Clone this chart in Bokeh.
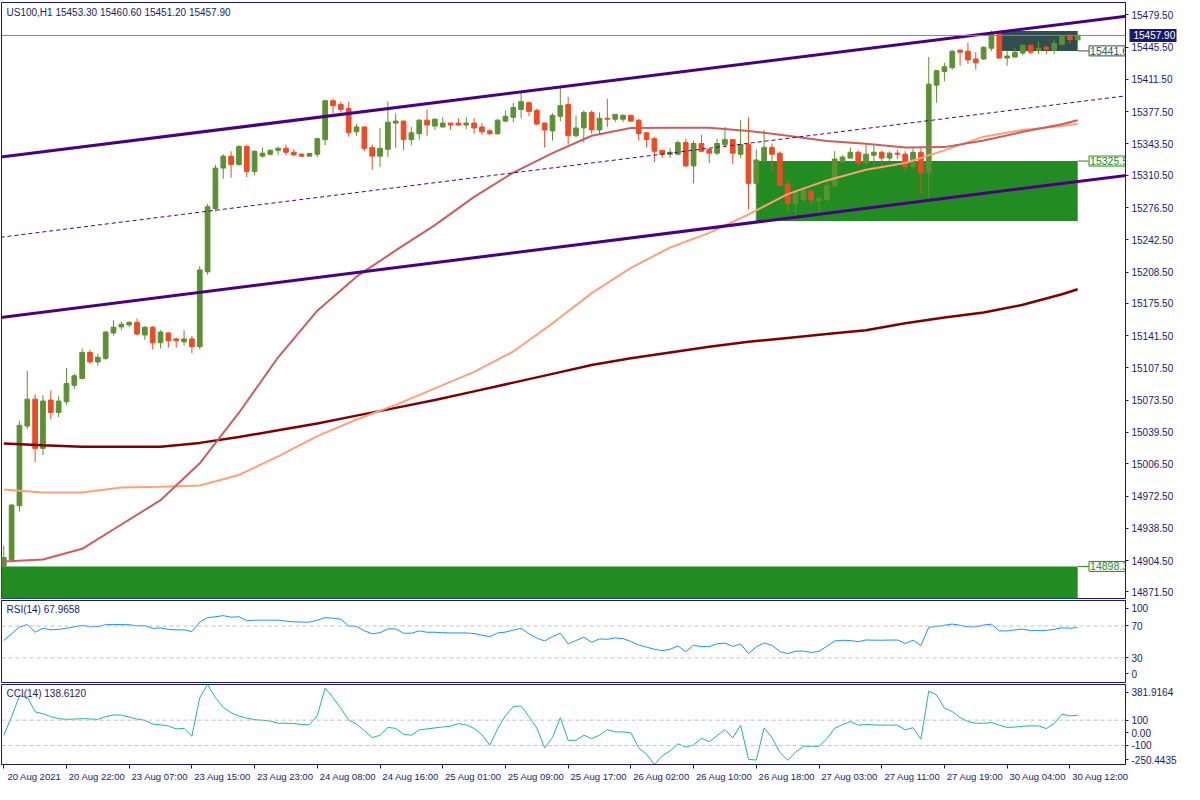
from bokeh.plotting import figure
from bokeh.layouts import column
from bokeh.models import (ColumnDataSource, FixedTicker, PrintfTickFormatter, Range1d, Label, Span,
                          LinearAxis)
from bokeh.embed import file_html
from bokeh.resources import INLINE
from bokeh.core.properties import value

# ---------------- data ----------------
symbol = "US100,H1"
x_label_bars = [0, 8, 16, 24, 32, 40, 48, 56, 64, 72, 80, 88, 96, 104, 112, 120, 128, 136]
x_label_text = ["20 Aug 2021", "20 Aug 22:00", "23 Aug 07:00", "23 Aug 15:00", "23 Aug 23:00",
                "24 Aug 08:00", "24 Aug 16:00", "25 Aug 01:00", "25 Aug 09:00", "25 Aug 17:00",
                "26 Aug 02:00", "26 Aug 10:00", "26 Aug 18:00", "27 Aug 03:00", "27 Aug 11:00",
                "27 Aug 19:00", "30 Aug 04:00", "30 Aug 12:00"]
price_ticks = [15479.5, 15445.5, 15411.5, 15377.5, 15343.5, 15310.5, 15276.5, 15242.5, 15208.5,
               15175.5, 15141.5, 15107.5, 15073.5, 15039.5, 15006.5, 14972.5, 14938.5, 14904.5, 14871.5]

open_ = [14898.4, 14905.6, 14962.3, 15046.2, 15074.6, 15022.7, 15073.6, 15060.6, 15071.9, 15089.3,
         15096.4, 15123.8, 15113.8, 15117.6, 15144.3, 15150.7, 15152.8, 15155.5, 15142.2, 15150.4,
         15134.0, 15144.3, 15138.1, 15135.0, 15138.1, 15129.9, 15208.8, 15275.4, 15318.1, 15330.7,
         15321.8, 15340.9, 15314.6, 15330.7, 15332.7, 15336.8, 15338.9, 15334.8, 15332.7, 15330.7,
         15332.7, 15348.1, 15389.1, 15385.0, 15380.9, 15356.3, 15361.4, 15339.9, 15330.7, 15337.9,
         15365.5, 15367.6, 15348.1, 15354.3, 15368.6, 15362.4, 15361.4, 15365.5, 15365.5, 15363.5,
         15365.5, 15361.4, 15357.3, 15354.3, 15367.6, 15371.7, 15379.9, 15387.0, 15378.8, 15365.5,
         15357.3, 15372.7, 15385.0, 15352.2, 15360.4, 15376.8, 15358.3, 15370.6, 15369.6, 15369.6,
         15373.7, 15368.6, 15355.3, 15349.1, 15336.8, 15332.7, 15332.7, 15345.0, 15320.4, 15344.0,
         15337.9, 15333.8, 15343.0, 15348.1, 15332.7, 15343.0, 15302.0, 15325.6, 15339.9, 15333.8,
         15301.0, 15280.5, 15284.6, 15293.8, 15283.6, 15284.6, 15298.9, 15324.5, 15328.6, 15334.8,
         15323.5, 15331.7, 15334.8, 15328.6, 15333.8, 15332.7, 15319.4, 15334.8, 15313.3, 15405.5,
         15419.8, 15423.9, 15442.3, 15441.3, 15433.1, 15433.1, 15444.4, 15459.7, 15434.1, 15435.2,
         15439.3, 15447.5, 15442.3, 15445.4, 15442.3, 15448.5, 15456.7, 15453.3]
high = [14920.3, 14964.0, 15051.8, 15104.3, 15079.7, 15078.7, 15083.8, 15077.7, 15107.4, 15101.5,
        15127.9, 15126.9, 15122.8, 15146.3, 15157.6, 15156.6, 15156.6, 15159.6, 15151.4, 15151.4,
        15147.3, 15145.3, 15139.1, 15147.3, 15141.2, 15214.9, 15280.5, 15321.5, 15332.7, 15335.8,
        15342.0, 15342.7, 15336.8, 15339.9, 15337.9, 15340.9, 15343.0, 15337.9, 15333.8, 15333.8,
        15350.2, 15390.0, 15391.1, 15388.1, 15388.1, 15364.5, 15362.4, 15343.0, 15360.4, 15388.1,
        15375.8, 15368.2, 15361.4, 15369.6, 15379.9, 15370.6, 15371.7, 15366.0, 15370.6, 15371.7,
        15370.6, 15365.5, 15359.4, 15369.6, 15378.8, 15387.0, 15398.3, 15388.1, 15380.9, 15366.0,
        15375.8, 15404.4, 15393.2, 15373.7, 15378.8, 15378.8, 15376.8, 15391.1, 15375.0, 15375.0,
        15374.2, 15369.6, 15355.8, 15351.2, 15337.3, 15338.9, 15347.1, 15349.1, 15347.1, 15353.2,
        15338.4, 15349.1, 15361.4, 15348.6, 15368.6, 15371.7, 15337.9, 15358.3, 15344.0, 15335.8,
        15307.1, 15294.8, 15298.9, 15294.3, 15287.7, 15305.1, 15335.8, 15331.7, 15339.9, 15336.8,
        15343.0, 15342.0, 15336.8, 15335.8, 15336.8, 15335.8, 15339.9, 15338.9, 15435.2, 15421.0,
        15429.0, 15442.3, 15443.4, 15450.5, 15440.3, 15446.4, 15462.8, 15462.8, 15442.3, 15444.4,
        15448.5, 15448.5, 15451.6, 15447.5, 15453.6, 15457.7, 15458.7, 15460.6]
low = [14896.4, 14904.6, 14956.1, 15043.2, 15008.3, 15015.5, 15053.4, 15055.5, 15068.8, 15085.2,
       15095.4, 15111.8, 15109.7, 15115.9, 15141.5, 15147.6, 15150.7, 15142.2, 15137.1, 15126.9,
       15127.9, 15128.9, 15128.9, 15131.0, 15122.8, 15126.9, 15205.7, 15272.3, 15306.8, 15307.9,
       15320.8, 15308.5, 15310.5, 15329.0, 15331.7, 15331.7, 15331.7, 15331.2, 15329.7, 15330.2,
       15329.7, 15342.0, 15375.8, 15376.8, 15351.2, 15352.2, 15335.8, 15316.4, 15319.4, 15329.7,
       15338.9, 15336.8, 15342.0, 15348.1, 15352.2, 15358.3, 15360.8, 15358.3, 15362.4, 15359.4,
       15354.3, 15353.2, 15353.2, 15353.2, 15366.5, 15366.5, 15370.6, 15372.7, 15363.5, 15339.9,
       15347.1, 15367.6, 15343.0, 15350.2, 15345.0, 15354.3, 15354.3, 15361.4, 15366.5, 15366.5,
       15367.0, 15347.1, 15339.9, 15324.5, 15328.6, 15328.6, 15331.7, 15319.4, 15302.0, 15335.3,
       15323.5, 15331.7, 15339.9, 15322.5, 15328.6, 15274.4, 15263.1, 15324.5, 15314.3, 15298.9,
       15272.3, 15269.2, 15284.0, 15279.5, 15271.3, 15284.0, 15298.4, 15323.5, 15328.1, 15320.4,
       15320.4, 15321.5, 15317.4, 15323.5, 15327.6, 15314.3, 15317.4, 15290.7, 15286.6, 15387.0,
       15409.6, 15421.9, 15425.9, 15428.0, 15421.9, 15432.1, 15441.3, 15433.7, 15425.9, 15434.1,
       15437.2, 15438.2, 15438.2, 15438.2, 15438.2, 15447.5, 15449.5, 15451.2]
close = [14907.7, 14963.0, 15047.0, 15074.6, 15022.7, 15072.6, 15060.6, 15072.6, 15091.0, 15099.2,
         15123.8, 15113.8, 15118.7, 15145.3, 15150.4, 15153.5, 15155.5, 15143.2, 15150.4, 15134.0,
         15145.3, 15136.1, 15136.1, 15138.1, 15129.9, 15210.8, 15277.4, 15318.1, 15330.7, 15321.8,
         15340.9, 15314.6, 15335.8, 15333.8, 15336.8, 15338.9, 15334.8, 15332.0, 15330.7, 15333.6,
         15349.1, 15389.1, 15384.0, 15379.9, 15355.3, 15361.4, 15338.9, 15330.7, 15338.9, 15366.5,
         15367.6, 15348.1, 15355.3, 15368.6, 15363.5, 15369.6, 15365.5, 15363.5, 15363.5, 15365.5,
         15360.4, 15356.3, 15354.3, 15368.6, 15372.7, 15381.9, 15388.1, 15377.8, 15364.5, 15358.3,
         15373.7, 15384.0, 15352.2, 15360.4, 15376.8, 15358.3, 15370.6, 15369.6, 15374.7, 15373.7,
         15367.6, 15354.3, 15348.1, 15335.8, 15332.7, 15334.8, 15345.0, 15320.4, 15344.0, 15335.8,
         15333.8, 15344.0, 15348.1, 15333.8, 15343.0, 15302.0, 15326.6, 15339.9, 15332.7, 15299.9,
         15280.5, 15293.8, 15294.8, 15284.6, 15285.6, 15300.0, 15327.6, 15329.7, 15334.8, 15323.5,
         15332.7, 15334.8, 15328.6, 15333.8, 15332.7, 15319.4, 15334.8, 15313.3, 15406.5, 15420.8,
         15424.9, 15441.3, 15440.3, 15432.1, 15429.0, 15445.4, 15459.7, 15434.1, 15436.2, 15440.3,
         15447.5, 15440.3, 15444.4, 15443.4, 15449.5, 15456.7, 15453.6, 15457.9]

# moving averages, read at every 5th bar
ma_bars = [0, 5, 10, 15, 20, 25, 30, 35, 40, 45, 50, 55, 60, 65, 70, 75, 80, 85, 90, 95,
           100, 105, 110, 115, 120, 125, 130, 135, 137]
ma_fast = [14903.5, 14905.6, 14916.9, 14942.5, 14968.1, 15007.0, 15060.3, 15118.7, 15167.8, 15203.7,
           15231.3, 15258.0, 15287.7, 15313.3, 15333.8, 15352.2, 15360.4, 15360.7, 15360.7, 15357.3,
           15352.2, 15346.6, 15343.7, 15339.9, 15340.2, 15347.1, 15356.3, 15364.2, 15368.6]
ma_mid = [14979.4, 14976.3, 14976.3, 14981.4, 14982.4, 14983.5, 14994.7, 15014.2, 15035.7, 15053.1,
          15068.5, 15085.9, 15103.3, 15124.8, 15154.5, 15186.3, 15212.9, 15234.4, 15249.8, 15269.2,
          15290.7, 15305.1, 15316.4, 15323.5, 15336.8, 15351.2, 15358.3, 15362.4, 15364.8]
ma_slow = [15027.8, 15026.0, 15024.4, 15024.4, 15024.4, 15028.5, 15034.7, 15041.8, 15049.0, 15057.2,
           15065.4, 15073.6, 15082.8, 15092.0, 15101.2, 15110.5, 15117.6, 15123.8, 15129.9, 15135.0,
           15139.1, 15143.2, 15147.3, 15154.5, 15160.7, 15165.8, 15174.0, 15185.2, 15190.4]

# equidistant channel anchors
chan_bars = [0, 137]
chan_upper = [15330.1, 15471.8]
chan_lower = [15161.1, 15303.9]

# rectangles (zones)
zone_left = [-1, 96, 127]
zone_right = [137, 137, 137]
zone_top = [14898.3, 15325.5, 15462.5]
zone_bottom = [14850.0, 15262.4, 15441.6]
zone_label = [14898.3, 15325.5, 15441.6]
zone_color = ["#228B22", "#228B22", "#2F4F4F"]

rsi = [51.7, 60.2, 68.8, 71.8, 62.1, 67.2, 65.1, 65.7, 67.2, 68.8,
       70.9, 68.8, 69.4, 71.6, 71.8, 71.8, 71.6, 70.0, 70.6, 67.0,
       67.6, 65.7, 65.1, 65.1, 63.0, 74.9, 80.4, 81.6, 83.0, 81.0,
       81.6, 76.7, 77.3, 77.3, 77.3, 77.3, 76.1, 75.2, 74.9, 74.9,
       77.3, 80.6, 79.8, 78.5, 70.0, 69.4, 63.9, 60.2, 61.5, 66.3,
       66.3, 60.9, 60.9, 63.8, 62.1, 62.1, 61.5, 61.2, 61.2, 61.2,
       60.5, 58.4, 56.6, 61.2, 62.3, 64.8, 67.1, 60.2, 54.8, 51.2,
       56.6, 60.9, 47.4, 51.7, 56.0, 49.5, 53.7, 53.3, 55.0, 54.1,
       50.5, 46.2, 43.5, 40.7, 39.1, 40.7, 45.0, 37.8, 46.0, 44.1,
       44.1, 47.7, 48.4, 44.3, 47.4, 35.2, 43.8, 48.7, 45.6, 38.0,
       35.1, 38.3, 38.7, 36.7, 38.3, 44.4, 51.2, 52.0, 51.7, 50.2,
       52.4, 52.2, 52.1, 52.3, 52.4, 48.0, 52.2, 45.4, 68.3, 69.5,
       70.9, 72.4, 70.9, 69.1, 68.8, 71.2, 72.2, 63.8, 63.8, 65.1,
       66.0, 64.1, 64.4, 64.5, 65.7, 67.7, 67.2, 67.9658]
cci = [-19.0, 127.5, 291.7, 281.7, 166.0, 150.6, 127.5, 112.1, 106.7, 108.2,
       112.1, 109.7, 106.7, 127.5, 140.6, 140.6, 123.6, 108.2, 98.9, 69.6,
       63.5, 54.2, 31.1, 35.0, -26.7, 277.8, 381.9164, 277.8, 200.7, 158.3,
       132.9, 115.9, 104.3, 98.9, 92.8, 75.8, 75.8, 73.5, 65.8, 63.5,
       137.5, 355.0, 277.8, 193.0, 102.0, 68.1, 17.2, -38.3, -19.0, 42.7,
       35.0, -11.3, -19.0, 23.4, 31.1, 38.8, 46.5, 51.9, 73.5, 61.9,
       35.0, -15.2, -98.4, 31.1, 135.2, 207.6, 212.3, 127.5, 38.8, -119.3,
       -37.5, 119.8, -59.1, -59.1, -19.0, -45.2, -19.0, 25.7, 7.2, 7.2,
       0.3, -119.3, -169.4, -250.4435, -182.5, -143.2, -86.9, -111.5, -96.1, -42.9,
       -69.9, -22.9, 25.7, -40.6, 60.4, -209.5, -215.6, 38.8, -37.5, -153.9,
       -217.2, -153.9, -106.1, -106.1, -106.1, -46.0, 35.0, 64.3, 88.9, 60.4,
       67.3, 62.7, 60.4, 60.4, 60.4, 23.4, 40.3, -50.6, 329.5, 300.2,
       194.6, 168.3, 120.5, 88.9, 75.8, 75.8, 81.2, 60.4, 42.7, 45.7,
       51.9, 55.0, 55.0, 33.4, 73.5, 147.5, 133.6, 138.612]
rsi_levels = [70, 30]
cci_levels = [100, -100]

# ---------------- styling ----------------
FONT = "Liberation Sans"
NAVY = "#191970"
BULL = "#5c9133"
BEAR = "#f04a24"
INDIGO = "#4B0082"
FW = 1124
X0, X1 = -0.29, 143.1
n = len(close)
idx = list(range(n))


def style_y_axis(ax):
    ax.axis_line_color = NAVY
    ax.major_tick_line_color = NAVY
    ax.major_tick_out = 3
    ax.major_tick_in = 0
    ax.minor_tick_line_color = None
    ax.major_label_text_font = FONT
    ax.major_label_text_font_size = "10px"
    ax.major_label_text_color = NAVY
    ax.major_label_standoff = 3


def base_fig(fh, y_range, top, bottom, x_range=None):
    p = figure(frame_width=FW, frame_height=fh,
               x_range=x_range if x_range is not None else Range1d(X0, X1),
               y_range=y_range, x_axis_location=None, y_axis_location="right",
               output_backend="svg", toolbar_location=None,
               min_border_left=1, min_border_right=58, min_border_top=top, min_border_bottom=bottom)
    p.grid.visible = False
    p.outline_line_color = NAVY
    p.outline_line_width = 1
    p.background_fill_color = "white"
    p.border_fill_color = "white"
    style_y_axis(p.yaxis[0])
    return p


# ---------------- main price panel ----------------
p1 = base_fig(596, Range1d(14864.5, 15492.6), 2, 1)
p1.yaxis[0].ticker = FixedTicker(ticks=price_ticks)
p1.yaxis[0].formatter = PrintfTickFormatter(format="%.2f")

p1.quad(left=zone_left, right=zone_right, top=zone_top, bottom=zone_bottom,
        fill_color=zone_color, line_color=None)

src = ColumnDataSource(dict(
    i=idx, h=high, l=low,
    top=[max(o, c) for o, c in zip(open_, close)],
    bot=[min(o, c) for o, c in zip(open_, close)],
    col=[BULL if c >= o else BEAR for o, c in zip(open_, close)],
))
p1.segment(x0="i", y0="l", x1="i", y1="h", line_color="col", line_width=1, source=src)
p1.vbar(x="i", top="top", bottom="bot", width=0.6, fill_color="col", line_color="col",
        line_width=1, source=src)

p1.line(ma_bars, ma_slow, line_color="#800000", line_width=2.5)
p1.line(ma_bars, ma_mid, line_color="#FFA07A", line_width=2)
p1.line(ma_bars, ma_fast, line_color="#CD5C5C", line_width=2)

ext = [X0 - 1, X1 + 1]
su = (chan_upper[1] - chan_upper[0]) / (chan_bars[1] - chan_bars[0])
sl = (chan_lower[1] - chan_lower[0]) / (chan_bars[1] - chan_bars[0])
up_ext = [chan_upper[0] + su * (x - chan_bars[0]) for x in ext]
lo_ext = [chan_lower[0] + sl * (x - chan_bars[0]) for x in ext]
mid_ext = [(a + b) / 2 for a, b in zip(up_ext, lo_ext)]
p1.line(ext, up_ext, line_color=INDIGO, line_width=3)
p1.line(ext, lo_ext, line_color=INDIGO, line_width=3)
p1.line(ext, mid_ext, line_color=INDIGO, line_width=1, line_dash="4 3")

p1.add_layout(Span(location=close[-1], dimension="width", line_color="#778899", line_width=1))

# zone price labels at the right edge
lab_x = [r + 1.4 for r in zone_right]
p1.segment(x0=zone_right, y0=zone_label, x1=lab_x, y1=zone_label, line_color=zone_color, line_width=1)
lab_src = ColumnDataSource(dict(x=[r + 1.45 for r in zone_right], y=zone_label,
                                t=[f"{v:.1f}" for v in zone_label], c=zone_color))
p1.text(x="x", y="y", text="t", source=lab_src, text_color="c", text_align="left",
        text_baseline="middle", text_font=value(FONT), text_font_size="10.5px",
        background_fill_color="white", border_line_color="c", padding=1)

header = f"{symbol}  {open_[-1]:.2f} {high[-1]:.2f} {low[-1]:.2f} {close[-1]:.2f}"
p1.add_layout(Label(x=X0, y=15492.6, x_offset=5, y_offset=-4, text=header, text_baseline="top",
                    text_font=FONT, text_font_size="10px", text_color=NAVY))

# current price box on the price scale: an outer axis whose single tick is drawn inward as a
# thick navy bar, with its white label pulled back over it
pa = LinearAxis(ticker=FixedTicker(ticks=[close[-1]]), formatter=PrintfTickFormatter(format="%.2f"))
pa.axis_line_color = None
pa.minor_tick_line_color = None
pa.major_tick_line_color = NAVY
pa.major_tick_line_width = 13
pa.major_tick_out = 0
pa.major_tick_in = 47
pa.major_label_standoff = -43
pa.major_label_text_color = "white"
pa.major_label_text_font = FONT
pa.major_label_text_font_size = "10px"
p1.add_layout(pa, "right")

# ---------------- RSI panel ----------------
p2 = base_fig(82, Range1d(-1, 102), 1, 1, x_range=p1.x_range)
for lv in rsi_levels:
    p2.add_layout(Span(location=lv, dimension="width", line_color="#C0C0C0", line_width=1, line_dash="4 3"))
p2.line(idx, rsi, line_color="#1E90FF", line_width=1)
p2.yaxis[0].ticker = FixedTicker(ticks=[10, 30, 70, 92])
p2.yaxis[0].major_label_overrides = {10: "0", 30: "30", 70: "70", 92: "100"}
p2.add_layout(Label(x=X0, y=102, x_offset=5, y_offset=-3, text=f"RSI(14) {rsi[-1]:.4f}",
                    text_baseline="top", text_font=FONT, text_font_size="10px", text_color=NAVY))

# ---------------- CCI panel ----------------
p3 = base_fig(80, Range1d(min(cci), max(cci)), 1, 0, x_range=p1.x_range)
for lv in cci_levels:
    p3.add_layout(Span(location=lv, dimension="width", line_color="#C0C0C0", line_width=1, line_dash="4 3"))
p3.line(idx, cci, line_color="#20B2AA", line_width=1)
p3.yaxis[0].ticker = FixedTicker(ticks=[-212, -100, 0, 100, 320])
p3.yaxis[0].major_label_overrides = {320: f"{max(cci):.4f}", 100: "100", 0: "0.00", -100: "-100",
                                     -212: f"{min(cci):.4f}"}
p3.add_layout(Label(x=X0, y=max(cci), x_offset=5, y_offset=-3, text=f"CCI(14) {cci[-1]:.4f}",
                    text_baseline="top", text_font=FONT, text_font_size="10px", text_color=NAVY))

# time axis: tick marks on bars (minor ticks), labels placed to the right of each tick
lab_pos = [b + 3.9 for b in x_label_bars]
xa = LinearAxis(ticker=FixedTicker(ticks=lab_pos, minor_ticks=x_label_bars))
xa.major_label_overrides = {pos: t for pos, t in zip(lab_pos, x_label_text)}
xa.axis_line_color = NAVY
xa.major_tick_out = 0
xa.major_tick_in = 0
xa.minor_tick_out = 4
xa.minor_tick_in = 0
xa.minor_tick_line_color = NAVY
xa.major_label_text_font = FONT
xa.major_label_text_font_size = "9.5px"
xa.major_label_text_color = NAVY
xa.major_label_standoff = 2
p3.add_layout(xa, "below")

layout = column(p1, p2, p3, spacing=0)
open("out.html", "w").write(file_html(layout, INLINE))
